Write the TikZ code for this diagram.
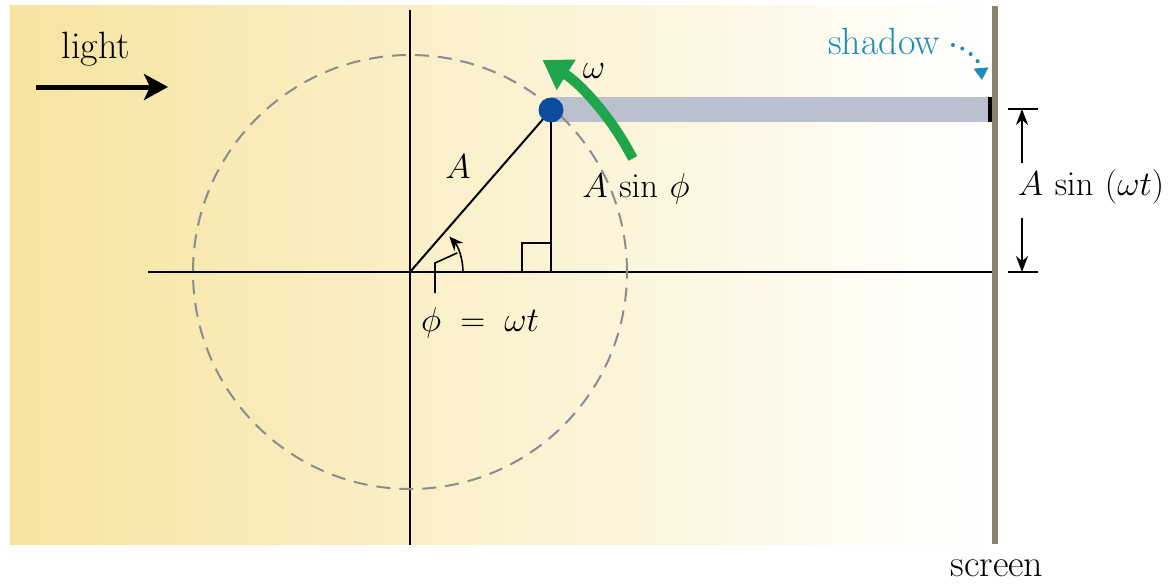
\documentclass[tikz,border=0pt]{standalone}
\usetikzlibrary{arrows.meta}
\definecolor{lightyel}{HTML}{F6E4A0}
\definecolor{screengray}{HTML}{86846C}
\definecolor{dotblue}{HTML}{0B4C9C}
\definecolor{arcgreen}{HTML}{1FA54B}
\definecolor{shadowblue}{HTML}{1B8DB9}
\definecolor{bandgray}{HTML}{BAC0CD}
\definecolor{circgray}{HTML}{8C8C8C}
\begin{document}
\begin{tikzpicture}[x=0.5pt,y=0.5pt,font=\fontsize{19}{22}\selectfont,
  thin line/.style={line width=1pt},
  dim arrow/.style={line width=0.8pt,-{Stealth[length=8pt,width=6pt]}}]
  \useasboundingbox (-410,-312) rectangle (761,272);
  % light from the left
  \shade[left color=lightyel,right color=white] (-400,-272) rectangle (585,266);
  \coordinate (o) at (0,0);
  \coordinate (p) at (141,162);
  \coordinate (f) at (141,0);
  % shadow band onto the screen
  \fill[bandgray] (141,150) rectangle (582,175);
  \fill[black] (578,150) rectangle (584,175);
  % axes and circle
  \coordinate (xl) at (-262,0); \coordinate (xr) at (585,0);
  \coordinate (yt) at (0,262);  \coordinate (yb) at (0,-273);
  \draw[thin line] (xl) -- (xr);
  \draw[thin line] (yt) -- (yb);
  \draw[circgray,line width=1pt,dash pattern=on 7pt off 4.5pt] (o) circle[radius=217];
  \draw[thin line] (o) -- (p);
  \draw[thin line] (p) -- (f);
  \draw[thin line] (112,0) |- (141,29);
  \node (lA) at (48,105) {$A$};
  \node (lAs) at (226,83) {$A\ \mathrm{sin}\ \phi$};
  % angle phi
  \coordinate (a0) at (53,0);
  \draw[line width=0.8pt,-{Stealth[length=7pt,width=6pt]}] (a0) arc[start angle=0,end angle=42,radius=53];
  \node (lphi) at (70,-51) {$\phi\;=\;\omega t$};
  \coordinate (k1) at (25,-21); \coordinate (k2) at (25,9); \coordinate (k3) at (22:51);
  \draw[line width=0.8pt] (k1) -- (k2) -- (k3);
  % rotation
  \coordinate (g0) at (27:250);
  \draw[arcgreen,line width=5pt,-{Triangle[length=14pt,width=17pt]}] (g0) arc[start angle=27,end angle=58,radius=250];
  \node (lw) at (184,201) {$\omega$};
  \node[circle,fill=dotblue,inner sep=0pt,minimum size=12.5pt] (dot) at (p) {};
  % light arrow
  \node (llight) at (-314,223) {light};
  \coordinate (l0) at (-374,185); \coordinate (l1) at (-242,185);
  \draw[line width=2.5pt,-{Stealth[length=12pt,width=13pt,inset=3pt]}] (l0) -- (l1);
  % screen
  \coordinate (s0) at (585,266); \coordinate (s1) at (585,-272);
  \draw[screengray,line width=2.6pt] (s0) -- (s1);
  \node (lscreen) at (587,-296) {screen};
  \node[text=shadowblue] (lshadow) at (474,231) {shadow};
  \coordinate (sh) at (572,192);
  \draw[shadowblue,line width=2pt,line cap=round,dash pattern=on 0pt off 5pt,-{Triangle[length=6pt,width=7pt]}]
    ([xshift=3pt,yshift=-2pt]lshadow.east) to[bend left=35] (sh);
  % height on the screen
  \coordinate (t0) at (598,163); \coordinate (t1) at (628,163);
  \coordinate (b0) at (598,0);   \coordinate (b1) at (628,0);
  \draw[line width=0.8pt] (t0) -- (t1);
  \draw[line width=0.8pt] (b0) -- (b1);
  \node (lh) at (681,85) {$A\ \mathrm{sin}\ (\omega t)$};
  \coordinate (ua) at (612,109); \coordinate (ub) at (612,163);
  \coordinate (da) at (612,54);  \coordinate (db) at (612,0);
  \draw[dim arrow] (ua) -- (ub);
  \draw[dim arrow] (da) -- (db);
\end{tikzpicture}
\end{document}
